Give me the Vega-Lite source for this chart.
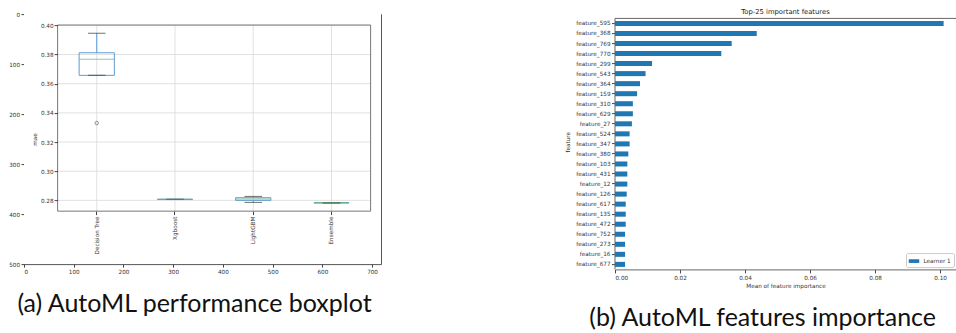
{
  "$schema": "https://vega.github.io/schema/vega-lite/v6.json",
  "background": "white",
  "padding": {"left": 8, "top": 9.1, "right": 0, "bottom": 0},
  "spacing": 182,
  "columns": 2,
  "resolve": {"legend": {"color": "independent"}},
  "config": {
    "font": "DejaVu Sans",
    "view": {"stroke": null},
    "axis": {"labelFont": "DejaVu Sans", "titleFont": "DejaVu Sans", "labelColor": "#333", "titleColor": "#333", "tickColor": "#444", "domainColor": "#666", "titleFontWeight": "normal", "labelFontSize": 5.7, "titleFontSize": 5.7, "grid": false},
    "legend": {"labelFont": "DejaVu Sans"}
  },
  "datasets": {
    "boxes": [
      {"model": "Decision Tree", "low": 0.3657, "q1": 0.3657, "median": 0.3767, "q3": 0.3812, "high": 0.3945},
      {"model": "Xgboost", "low": 0.2807, "q1": 0.2807, "median": 0.2807, "q3": 0.2807, "high": 0.2807},
      {"model": "LightGBM", "low": 0.2786, "q1": 0.2800, "median": 0.2809, "q3": 0.2818, "high": 0.2827},
      {"model": "Ensemble", "low": 0.2783, "q1": 0.2783, "median": 0.2783, "q3": 0.2783, "high": 0.2783}
    ],
    "outliers": [{"model": "Decision Tree", "mae": 0.3330}],
    "maeTicks": [{"mae": 0.28}, {"mae": 0.30}, {"mae": 0.32}, {"mae": 0.34}, {"mae": 0.36}, {"mae": 0.38}, {"mae": 0.40}],
    "features": [
      {"feature": "feature_595", "importance": 0.1011, "learner": "Learner 1"},
      {"feature": "feature_368", "importance": 0.0436, "learner": "Learner 1"},
      {"feature": "feature_769", "importance": 0.0359, "learner": "Learner 1"},
      {"feature": "feature_770", "importance": 0.0327, "learner": "Learner 1"},
      {"feature": "feature_299", "importance": 0.0114, "learner": "Learner 1"},
      {"feature": "feature_543", "importance": 0.0094, "learner": "Learner 1"},
      {"feature": "feature_364", "importance": 0.0077, "learner": "Learner 1"},
      {"feature": "feature_159", "importance": 0.0068, "learner": "Learner 1"},
      {"feature": "feature_310", "importance": 0.0055, "learner": "Learner 1"},
      {"feature": "feature_629", "importance": 0.0055, "learner": "Learner 1"},
      {"feature": "feature_27", "importance": 0.0052, "learner": "Learner 1"},
      {"feature": "feature_524", "importance": 0.0045, "learner": "Learner 1"},
      {"feature": "feature_347", "importance": 0.0045, "learner": "Learner 1"},
      {"feature": "feature_380", "importance": 0.0041, "learner": "Learner 1"},
      {"feature": "feature_103", "importance": 0.0038, "learner": "Learner 1"},
      {"feature": "feature_431", "importance": 0.0038, "learner": "Learner 1"},
      {"feature": "feature_12", "importance": 0.0038, "learner": "Learner 1"},
      {"feature": "feature_126", "importance": 0.0036, "learner": "Learner 1"},
      {"feature": "feature_617", "importance": 0.0033, "learner": "Learner 1"},
      {"feature": "feature_135", "importance": 0.0033, "learner": "Learner 1"},
      {"feature": "feature_472", "importance": 0.0033, "learner": "Learner 1"},
      {"feature": "feature_752", "importance": 0.0031, "learner": "Learner 1"},
      {"feature": "feature_273", "importance": 0.0031, "learner": "Learner 1"},
      {"feature": "feature_16", "importance": 0.0031, "learner": "Learner 1"},
      {"feature": "feature_677", "importance": 0.0031, "learner": "Learner 1"}
    ]
  },
  "concat": [
    {
      "width": 357,
      "height": 250,
      "title": {"text": "(a) AutoML performance boxplot", "orient": "bottom", "font": "Lato", "fontSize": 25, "fontWeight": "normal", "color": "#111", "offset": 18, "anchor": "middle", "dx": -8},
      "view": {"stroke": "#555", "strokeWidth": 1},
      "layer": [
        {
          "data": {"values": [{}]},
          "mark": {"type": "rect", "fill": "white"},
          "encoding": {
            "x": {"datum": 0, "type": "quantitative", "scale": {"domain": [0, 718], "nice": false, "zero": false}, "axis": {"orient": "bottom", "values": [0, 100, 200, 300, 400, 500, 600, 700], "title": null, "domain": false, "tickSize": 3, "labelPadding": 1.5}},
            "x2": {"datum": 718},
            "y": {"datum": 0, "type": "quantitative", "scale": {"domain": [0, 500], "nice": false, "reverse": true}, "axis": {"orient": "left", "values": [0, 100, 200, 300, 400, 500], "title": null, "domain": false, "tickSize": 3, "labelPadding": 1.5}},
            "y2": {"datum": 500}
          }
        },
        {
          "data": {"name": "maeTicks"},
          "mark": {"type": "rule", "color": "#d9d9d9", "strokeWidth": 0.8},
          "encoding": {
            "y": {"field": "mae", "type": "quantitative", "scale": {"domain": [0.2363, 0.4077], "nice": false, "zero": false}, "axis": {"orient": "left", "offset": -33.6, "zindex": 2, "values": [0.28, 0.30, 0.32, 0.34, 0.36, 0.38, 0.40], "format": ".2f", "domain": false, "tickSize": 3.5, "labelPadding": 1, "title": "mae", "titlePadding": 2.5}},
            "x": {"datum": "Decision Tree", "type": "nominal", "bandPosition": 0, "scale": {"type": "band", "domain": ["Decision Tree", "Xgboost", "LightGBM", "Ensemble"], "paddingInner": 0, "paddingOuter": 0.281, "align": 0.764}, "axis": {"orient": "bottom", "offset": -53, "zindex": 2, "labelAngle": -90, "title": null, "domain": false, "tickSize": 3.5, "labelPadding": 1.5}},
            "x2": {"datum": "Ensemble", "bandPosition": 1}
          }
        },
        {
          "data": {"name": "boxes"},
          "mark": {"type": "rule", "color": "#d9d9d9", "strokeWidth": 0.8},
          "encoding": {
            "x": {"field": "model", "type": "nominal", "scale": {"type": "band", "domain": ["Decision Tree", "Xgboost", "LightGBM", "Ensemble"], "paddingInner": 0, "paddingOuter": 0.281, "align": 0.764}, "axis": null},
            "y": {"datum": 0.2726, "type": "quantitative", "scale": {"domain": [0.2363, 0.4077], "nice": false, "zero": false}, "axis": null},
            "y2": {"datum": 0.4002}
          }
        },
        {
          "data": {"values": [{}]},
          "mark": {"type": "rect", "fill": "transparent", "stroke": "#777", "strokeWidth": 1},
          "encoding": {
            "x": {"datum": "Decision Tree", "type": "nominal", "bandPosition": 0, "scale": {"type": "band", "domain": ["Decision Tree", "Xgboost", "LightGBM", "Ensemble"], "paddingInner": 0, "paddingOuter": 0.281, "align": 0.764}, "axis": null},
            "x2": {"datum": "Ensemble", "bandPosition": 1},
            "y": {"datum": 0.2726, "type": "quantitative", "scale": {"domain": [0.2363, 0.4077], "nice": false, "zero": false}, "axis": null},
            "y2": {"datum": 0.4002}
          }
        },
        {
          "data": {"name": "boxes"},
          "mark": {"type": "rule", "color": "#5b9bd5", "strokeWidth": 1},
          "encoding": {
            "x": {"field": "model", "type": "nominal", "scale": {"type": "band", "domain": ["Decision Tree", "Xgboost", "LightGBM", "Ensemble"], "paddingInner": 0, "paddingOuter": 0.281, "align": 0.764}, "axis": null},
            "y": {"field": "q3", "type": "quantitative", "scale": {"domain": [0.2363, 0.4077], "nice": false, "zero": false}, "axis": null},
            "y2": {"field": "high"}
          }
        },
        {
          "data": {"name": "boxes"},
          "mark": {"type": "rule", "color": "#5b9bd5", "strokeWidth": 1},
          "encoding": {
            "x": {"field": "model", "type": "nominal", "scale": {"type": "band", "domain": ["Decision Tree", "Xgboost", "LightGBM", "Ensemble"], "paddingInner": 0, "paddingOuter": 0.281, "align": 0.764}, "axis": null},
            "y": {"field": "low", "type": "quantitative", "scale": {"domain": [0.2363, 0.4077], "nice": false, "zero": false}, "axis": null},
            "y2": {"field": "q1"}
          }
        },
        {
          "data": {"name": "boxes"},
          "mark": {"type": "bar", "fill": "transparent", "stroke": "#5b9bd5", "strokeWidth": 1, "width": {"band": 0.45}},
          "encoding": {
            "x": {"field": "model", "type": "nominal", "scale": {"type": "band", "domain": ["Decision Tree", "Xgboost", "LightGBM", "Ensemble"], "paddingInner": 0, "paddingOuter": 0.281, "align": 0.764}, "axis": null},
            "y": {"field": "q1", "type": "quantitative", "scale": {"domain": [0.2363, 0.4077], "nice": false, "zero": false}, "axis": null},
            "y2": {"field": "q3"}
          }
        },
        {
          "data": {"name": "boxes"},
          "mark": {"type": "tick", "color": "#333", "size": 17.5, "thickness": 1},
          "encoding": {
            "x": {"field": "model", "type": "nominal", "scale": {"type": "band", "domain": ["Decision Tree", "Xgboost", "LightGBM", "Ensemble"], "paddingInner": 0, "paddingOuter": 0.281, "align": 0.764}, "axis": null},
            "y": {"field": "low", "type": "quantitative", "scale": {"domain": [0.2363, 0.4077], "nice": false, "zero": false}, "axis": null}
          }
        },
        {
          "data": {"name": "boxes"},
          "mark": {"type": "tick", "color": "#333", "size": 17.5, "thickness": 1},
          "encoding": {
            "x": {"field": "model", "type": "nominal", "scale": {"type": "band", "domain": ["Decision Tree", "Xgboost", "LightGBM", "Ensemble"], "paddingInner": 0, "paddingOuter": 0.281, "align": 0.764}, "axis": null},
            "y": {"field": "high", "type": "quantitative", "scale": {"domain": [0.2363, 0.4077], "nice": false, "zero": false}, "axis": null}
          }
        },
        {
          "data": {"name": "boxes"},
          "mark": {"type": "tick", "color": "#6ab36a", "size": 35, "thickness": 1},
          "encoding": {
            "x": {"field": "model", "type": "nominal", "scale": {"type": "band", "domain": ["Decision Tree", "Xgboost", "LightGBM", "Ensemble"], "paddingInner": 0, "paddingOuter": 0.281, "align": 0.764}, "axis": null},
            "y": {"field": "median", "type": "quantitative", "scale": {"domain": [0.2363, 0.4077], "nice": false, "zero": false}, "axis": null}
          }
        },
        {
          "data": {"name": "outliers"},
          "mark": {"type": "point", "shape": "circle", "filled": false, "color": "#444", "size": 12, "strokeWidth": 0.8},
          "encoding": {
            "x": {"field": "model", "type": "nominal", "scale": {"type": "band", "domain": ["Decision Tree", "Xgboost", "LightGBM", "Ensemble"], "paddingInner": 0, "paddingOuter": 0.281, "align": 0.764}, "axis": null},
            "y": {"field": "mae", "type": "quantitative", "scale": {"domain": [0.2363, 0.4077], "nice": false, "zero": false}, "axis": null}
          }
        }
      ],
      "resolve": {"scale": {"x": "independent", "y": "independent"}, "axis": {"x": "independent", "y": "independent"}}
    },
    {
      "title": {"text": "(b) AutoML features importance", "orient": "bottom", "font": "Lato", "fontSize": 25, "fontWeight": "normal", "color": "#111", "offset": 18, "anchor": "middle", "dx": 2},
      "resolve": {"legend": {"color": "independent"}},
      "vconcat": [
        {
          "width": 341,
          "height": 255.3,
          "title": {"text": "Top-25 important features", "font": "DejaVu Sans", "fontSize": 6.8, "fontWeight": "normal", "color": "#222", "offset": -2.1},
          "data": {"name": "features"},
          "layer": [
            {
              "mark": {"type": "bar"},
              "encoding": {
                "y": {"field": "feature", "type": "nominal", "sort": null, "scale": {"paddingInner": 0.5, "paddingOuter": 0.464, "align": 0.731}, "axis": {"title": "feature", "domain": false, "tickSize": 3.5, "labelPadding": 1.5, "titlePadding": 5}},
                "x": {"field": "importance", "type": "quantitative", "scale": {"domain": [0, 0.1049], "nice": false}, "axis": {"values": [0, 0.02, 0.04, 0.06, 0.08, 0.1], "format": ".2f", "title": "Mean of feature importance", "domain": true, "domainColor": "#666", "tickSize": 3.5, "labelPadding": 1.5, "titlePadding": 2}},
                "color": {"field": "learner", "type": "nominal", "scale": {"range": ["#1f77b4"]}, "legend": {"title": null, "orient": "bottom-right", "offset": 2.5, "padding": 2.5, "strokeColor": "#ccc", "fillColor": "white", "cornerRadius": 1.5, "symbolType": "M-1,-0.35H1V0.35H-1Z", "symbolSize": 110, "symbolStrokeWidth": 0, "labelFontSize": 5.7, "labelColor": "#333", "labelOffset": 4}}
              }
            },
            {
              "data": {"values": [{}]},
              "mark": {"type": "rule", "color": "#666", "strokeWidth": 1},
              "encoding": {
                "y": {"datum": "feature_595", "bandPosition": -0.5},
                "x": {"datum": 0},
                "x2": {"datum": 0.1049}
              }
            },
            {
              "data": {"values": [{}]},
              "mark": {"type": "rule", "color": "#666", "strokeWidth": 1},
              "encoding": {
                "y": {"datum": "feature_595", "bandPosition": -0.5},
                "y2": {"datum": "feature_677", "bandPosition": 1.5},
                "x": {"datum": 0}
              }
            }
          ]
        }
      ]
    }
  ]
}
